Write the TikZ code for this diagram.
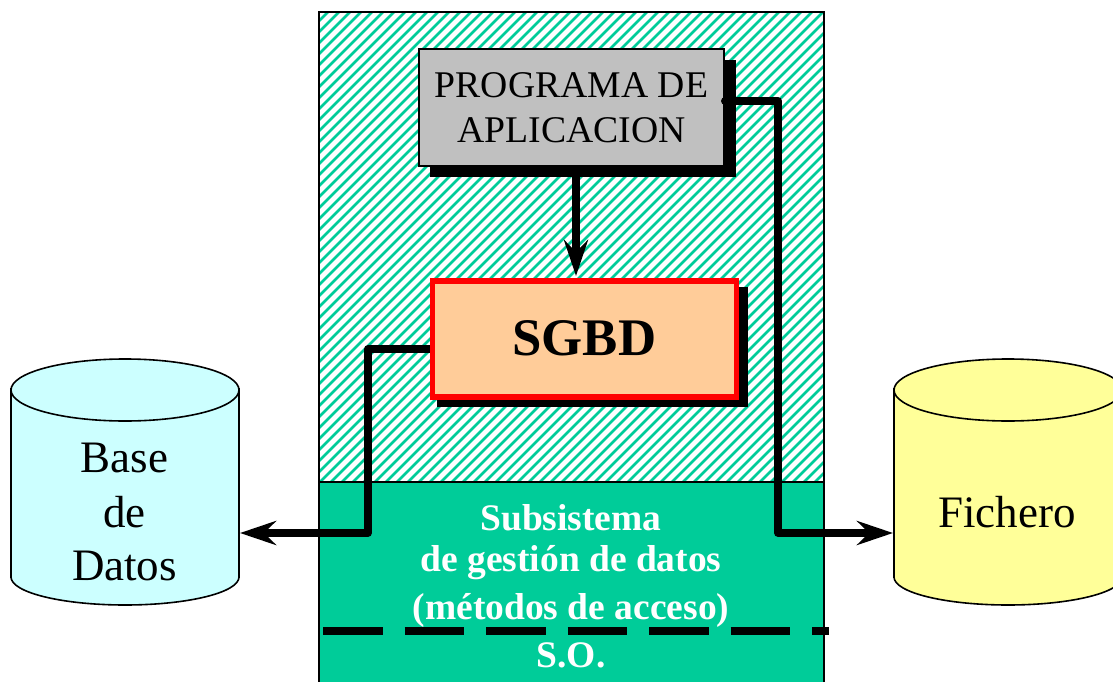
\documentclass[tikz,border=0pt]{standalone}
\usepackage{fontspec}
\setmainfont{Liberation Serif}
\usetikzlibrary{arrows.meta}
\definecolor{hatchgreen}{HTML}{00CC99}
\definecolor{boxgray}{HTML}{C0C0C0}
\definecolor{sgbdfill}{HTML}{FFCC99}
\definecolor{cylblue}{HTML}{CCFFFF}
\definecolor{cylyellow}{HTML}{FFFF99}
\tikzset{
  panel/.style={draw=black,line width=2pt},
  boxnode/.style={anchor=north west,inner sep=0pt,align=center,line width=2pt,draw=black},
  shadowbox/.style={fill=black},
  link/.style={draw=black,line width=7.5pt,line join=round},
  headed/.style={link,-{Stealth[length=36pt,width=24pt,inset=12pt]}},
  whitetext/.style={text=white,font=\fontsize{37.5}{37.5}\selectfont\bfseries,inner sep=0pt},
  cyltext/.style={font=\fontsize{45}{45}\selectfont,inner sep=0pt},
  cyl/.style={draw=black,line width=1.6pt},
}
\begin{document}
\begin{tikzpicture}[x=1pt,y=-1pt]
\useasboundingbox (0,0) rectangle (1113,682);
\clip (0,0) rectangle (1113,682);
% hatched upper panel
\begin{scope}
  \clip (319,12) rectangle (824,482);
  \foreach \k in {0,11,...,1100} {
    \draw[hatchgreen,line width=2.6pt] (319+\k-480,490) -- (319+\k,10);
  }
\end{scope}
\draw[panel] (319,12) rectangle (824,482);
% lower panel
\fill[hatchgreen] (319,482) rectangle (824,690);
\draw[panel] (319,482) -- (319,690) (824,482) -- (824,690);
\draw[black,line width=1.5pt] (319,482) -- (824,482);
% cylinder Base de Datos
\coordinate (bdport) at (240,533);
\path[fill=cylblue] (11,390) arc[x radius=114,y radius=31,start angle=180,end angle=360] -- (239,577)
  arc[x radius=114,y radius=28,start angle=0,end angle=180] -- cycle;
\draw[cyl] (11,388) -- (11,578) (239,388) -- (239,578);
\draw[cyl] (239,577) arc[x radius=114,y radius=28,start angle=0,end angle=180];
\draw[cyl] (125,390) ellipse[x radius=114,y radius=31];
% cylinder Fichero
\coordinate (fport) at (893,533);
\path[fill=cylyellow] (894,390) arc[x radius=114,y radius=31,start angle=180,end angle=360] -- (1122,577)
  arc[x radius=114,y radius=28,start angle=0,end angle=180] -- cycle;
\draw[cyl] (894,388) -- (894,578) (1122,388) -- (1122,578);
\draw[cyl] (1122,577) arc[x radius=114,y radius=28,start angle=0,end angle=180];
\draw[cyl] (1008,390) ellipse[x radius=114,y radius=31];
\node[cyltext,align=center] (bdtext1) at (124.5,458) {Base};
\node[cyltext] (bdtext2) at (124.5,512) {de};
\node[cyltext] (bdtext3) at (124.5,566) {Datos};
\node[cyltext] (ftext) at (1007,512) {Fichero};
% shadows
\fill[shadowbox] (430,60) rectangle (736,177);
\fill[shadowbox] (437,287) rectangle (748,407);
% boxes
\node[boxnode,fill=boxgray,minimum width=305pt,minimum height=117pt,
      font=\fontsize{37.7}{45}\selectfont] (prog) at (418,48) {PROGRAMA DE\\APLICACION};
\node[boxnode,fill=sgbdfill,draw=red,line width=5.5pt,minimum width=304pt,minimum height=116pt,
      font=\fontsize{52.8}{52.8}\selectfont\bfseries] (sgbd) at (429.5,278) {SGBD};
% connectors
\coordinate (progport) at (prog.east |- 0,101);
\coordinate (progbase) at (576,177);
\coordinate (sgbdtop) at (576,276);
\coordinate (sgbdport) at (sgbd.west |- 0,349);
\draw[headed] (progbase) -- (sgbdtop);
\draw[headed] (sgbdport) -- (368,349) -- (368,533) -- (bdport);
\fill (progport) circle[radius=4pt];
\draw[headed] (progport) -- (778,101) -- (778,533) -- (fport);
% texts in the lower panel
\node[whitetext] (t1) at (571,518) {Subsistema};
\node[whitetext] (t2) at (571,563) {de gestión de datos};
\node[whitetext] (t3) at (571,610) {(métodos de acceso)};
\node[whitetext] (t4) at (571,655) {S.O.};
% dashed boundary
\coordinate (soa) at (323,631);
\coordinate (sob) at (829,631);
\draw[line width=8pt,dash pattern=on 59.5pt off 22pt] (soa) -- (sob);
\end{tikzpicture}
\end{document}
